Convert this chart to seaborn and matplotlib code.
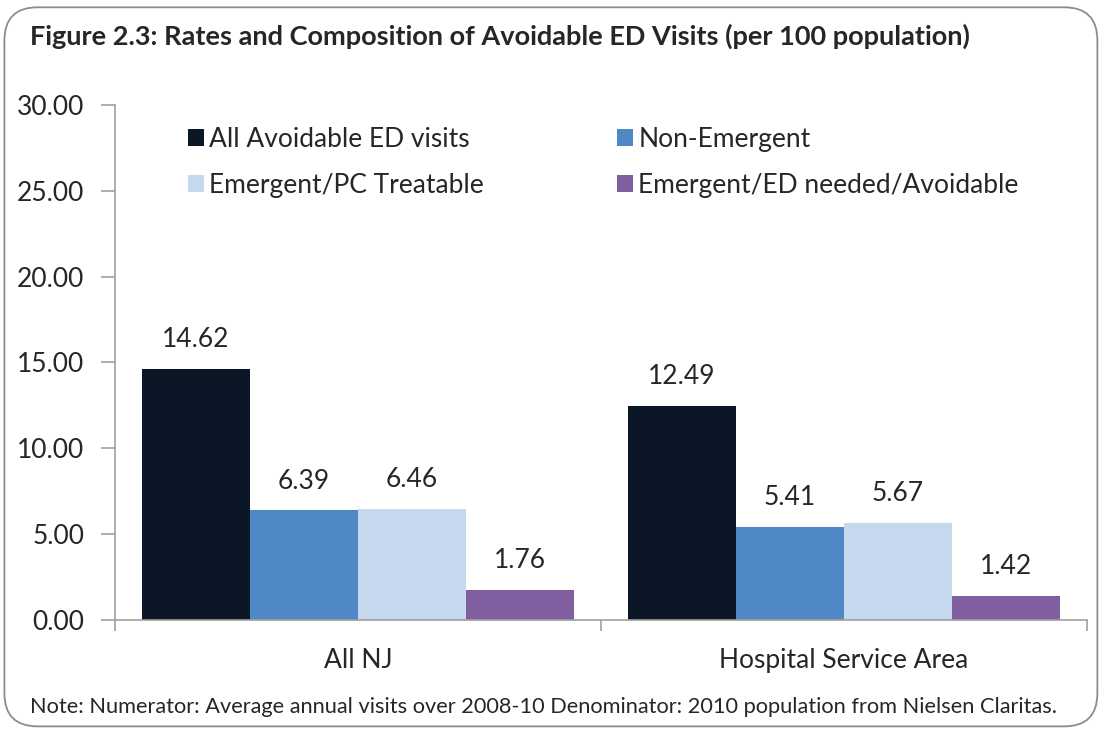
import pandas as pd
import numpy as np

import matplotlib.pyplot as plt
from matplotlib.patches import FancyBboxPatch
import seaborn as sns

areas = ['All NJ', 'Hospital Service Area']
series = ['All Avoidable ED visits', 'Non-Emergent',
          'Emergent/PC Treatable', 'Emergent/ED needed/Avoidable']
all_nj = [14.62, 6.39, 6.46, 1.76]
service_area = [12.49, 5.41, 5.67, 1.42]
colores = ['#0B1627', '#4F88C6', '#C5D8EE', '#7F5FA0']

df = pd.DataFrame({'area': [areas[0]] * 4 + [areas[1]] * 4,
                   'serie': series * 2,
                   'valor': all_nj + service_area})

sns.set_style('white')
plt.rcParams['font.family'] = ['Lato', 'DejaVu Sans']

fig = plt.figure(figsize=(11.04, 7.3), dpi=100)
ax = fig.add_axes([0.1042, 0.1507, 0.8804, 0.7055])

sns.barplot(data=df, x='area', y='valor', hue='serie', order=areas,
            hue_order=series, palette=colores, width=0.889, saturation=1,
            edgecolor='none', ax=ax)

for contenedor in ax.containers:
    ax.bar_label(contenedor, fmt='%.2f', padding=12, fontsize=19)

ax.set_ylim(0, 30)
ax.set_xlim(-0.5, 1.5)
ax.set_yticks(np.arange(0, 31, 5))
ax.set_yticklabels([f'{v:.2f}' for v in np.arange(0, 31, 5)], fontsize=19)
ax.tick_params(axis='y', length=10, width=1.2, color='#A0A0A0', direction='out',
               left=True, pad=12)
ax.tick_params(axis='x', which='major', length=0, labelsize=19, pad=20)
ax.set_xticks([-0.5, 0.5, 1.5], minor=True)
ax.tick_params(axis='x', which='minor', length=8, width=1.2, color='#A0A0A0',
               direction='out', bottom=True)
ax.set_xlabel('')
ax.set_ylabel('')

for lado in ['top', 'right']:
    ax.spines[lado].set_visible(False)
for lado in ['left', 'bottom']:
    ax.spines[lado].set_color('#A0A0A0')
    ax.spines[lado].set_linewidth(1.2)

# leyenda por filas: reordenar para que matplotlib la llene por columnas
handles, labels = ax.get_legend_handles_labels()
orden = [0, 2, 1, 3]
ax.legend([handles[i] for i in orden], [labels[i] for i in orden],
          loc='upper left', bbox_to_anchor=(0.075, 0.958), ncol=2, frameon=False,
          fontsize=19, handlelength=0.6, handleheight=0.6, handletextpad=0.2,
          columnspacing=5.05, labelspacing=0.8, borderpad=0, borderaxespad=0)

fig.text(0.027, 0.950, 'Figure 2.3: Rates and Composition of Avoidable ED Visits (per 100 population)',
         fontsize=19.5, fontweight='bold', va='center')
fig.text(0.027, 0.032, 'Note: Numerator: Average annual visits over 2008-10 Denominator: '
         '2010 population from Nielsen Claritas.', fontsize=15.7, va='center')

borde = FancyBboxPatch((0.004, 0.005), 0.99, 0.985, boxstyle='round,pad=0,rounding_size=0.03',
                       transform=fig.transFigure, fill=False, edgecolor='#8C8C8C',
                       linewidth=1.3, mutation_aspect=1104 / 730)
fig.patches.append(borde)

fig.savefig('out.png', dpi=100)
